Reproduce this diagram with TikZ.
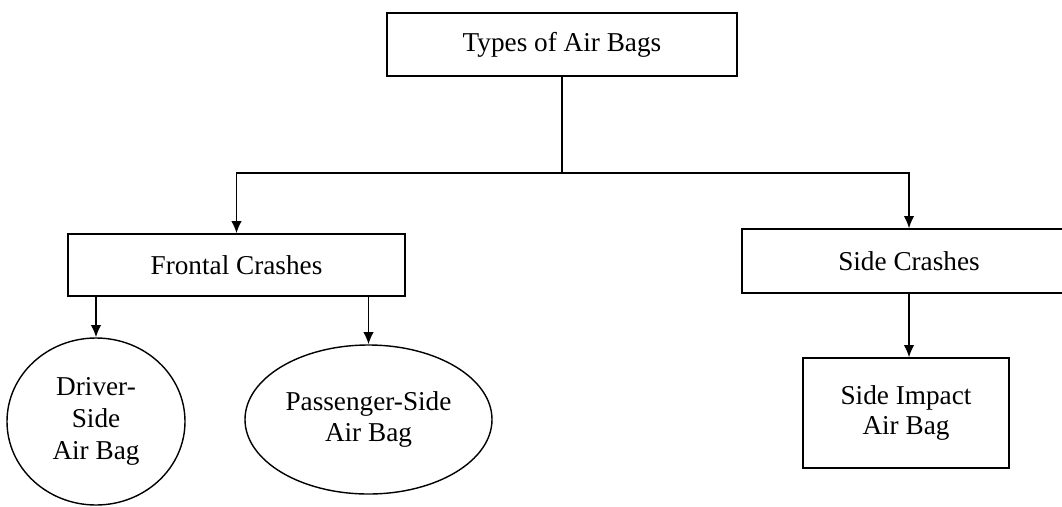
\documentclass[tikz,border=0pt]{standalone}
\usepackage{fontspec}
\setmainfont{Liberation Serif}
\usetikzlibrary{shapes,arrows.meta,positioning}
\tikzset{basic/.style={draw,line width=0.8pt,fill=white,align=center,inner sep=2pt,font=\fontsize{15.5}{18}\selectfont}}
\tikzset{group/.style={basic,rectangle}}
\tikzset{bag/.style={basic,ellipse}}
\tikzset{link/.style={draw,line width=0.8pt,-{Latex[length=7pt,width=6pt]}}}

\begin{document}
\begin{tikzpicture}
    \useasboundingbox (0,0) rectangle (21.24,-10.12);

    \node[group,minimum width=7.0cm,minimum height=1.26cm] (types) at (11.24,-0.89) {Types of Air Bags};

    \node[group,minimum width=6.74cm,minimum height=1.24cm] (frontal) at (4.73,-5.30) {Frontal Crashes};
    \node[group,minimum width=6.68cm,minimum height=1.28cm] (side) at (18.18,-5.22) {Side Crashes};

    \node[bag,minimum width=3.56cm,minimum height=3.34cm] (driver) at (1.92,-8.43) {Driver-\\Side\\Air Bag};
    \node[bag,minimum width=4.94cm,minimum height=2.98cm] (passenger) at (7.37,-8.39) {Passenger-Side\\Air Bag};
    \node[group,minimum width=4.12cm,minimum height=2.2cm,font=\fontsize{15.5}{17}\selectfont] (impact) at (18.12,-8.26) {Side Impact\\Air Bag};

    \coordinate (fork) at (types.south |- 0,-3.46);

        \draw[line width=0.8pt] (types.south) -- (fork);
        \path[link] (fork) -| (frontal.north);
        \path[link] (fork) -| (side.north);
        \path[link] (frontal.south -| driver.north) -- (driver.north);
        \path[link] (frontal.south -| passenger.north) -- (passenger.north);
        \path[link] (side.south) -- (side.south |- impact.north);
      \end{tikzpicture}
\end{document}
